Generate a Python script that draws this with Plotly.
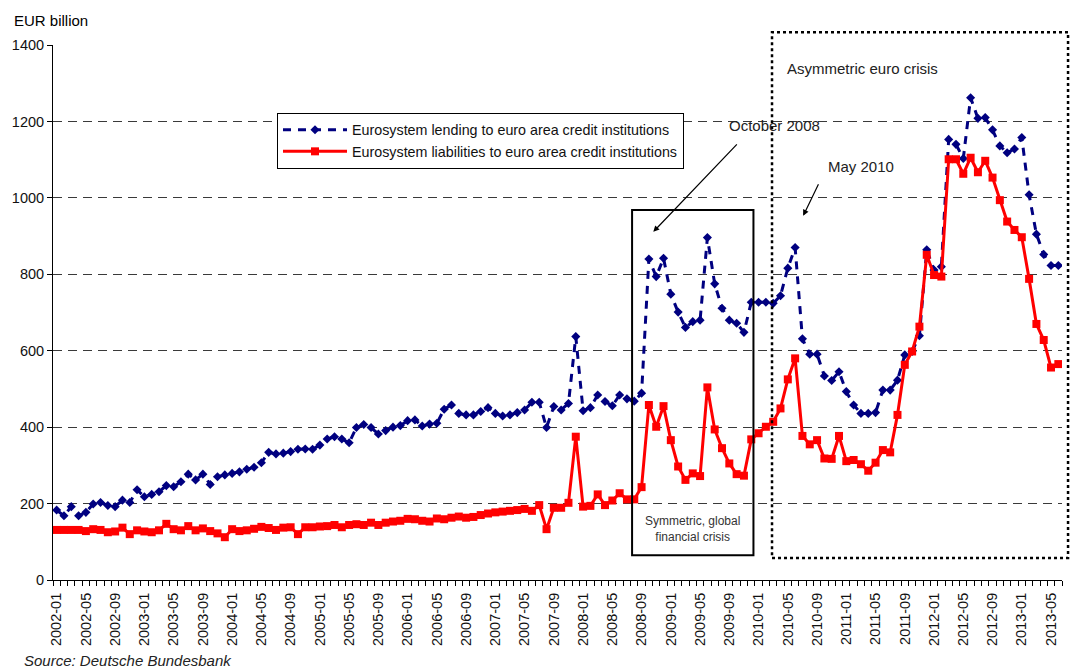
import plotly.graph_objects as go

# Monthly observations, January 2002 to June 2013 (EUR billion)
months = [f"{y}-{m:02d}" for y in range(2002, 2014) for m in range(1, 13)][:138]

lending = [
    183, 168, 192, 168, 177, 199, 203, 195, 192, 209,
    203, 236, 218, 224, 231, 247, 244, 257, 277, 262,
    277, 250, 270, 275, 279, 283, 290, 295, 307, 334,
    330, 332, 336, 342, 343, 342, 353, 369, 375, 369,
    359, 399, 407, 399, 382, 391, 400, 404, 417, 419,
    403, 408, 410, 447, 458, 436, 432, 432, 441, 451,
    436, 429, 432, 438, 445, 465, 465, 399, 454, 445,
    462, 637, 443, 451, 484, 467, 456, 484, 474, 468,
    489, 840, 794, 842, 748, 701, 661, 676, 680, 896,
    775, 711, 680, 672, 648, 727, 727, 727, 724, 744,
    816, 870, 631, 591, 591, 534, 522, 545, 493, 458,
    436, 436, 438, 497, 497, 523, 589, 598, 639, 864,
    811, 820, 1153, 1140, 1103, 1262, 1208, 1210, 1178, 1136,
    1118, 1128, 1158, 1008, 905, 852, 823, 823,
]

liabilities = [
    131, 131, 131, 131, 128, 133, 131, 125, 127, 137,
    120, 130, 127, 125, 130, 147, 133, 130, 141, 130,
    135, 128, 122, 112, 133, 128, 130, 134, 139, 136,
    131, 137, 138, 120, 138, 138, 140, 141, 144, 138,
    144, 146, 144, 150, 144, 150, 153, 155, 160, 159,
    155, 153, 161, 159, 163, 166, 163, 165, 170, 174,
    177, 179, 181, 183, 186, 181, 196, 133, 189, 189,
    202, 375, 192, 194, 224, 196, 208, 227, 211, 211,
    243, 458, 401, 455, 366, 297, 262, 279, 272, 504,
    394, 345, 305, 277, 273, 368, 384, 401, 414, 449,
    525, 580, 377, 355, 366, 318, 317, 377, 311, 314,
    303, 286, 307, 340, 334, 432, 563, 598, 663, 851,
    798, 794, 1101, 1101, 1063, 1105, 1067, 1097, 1053, 994,
    938, 916, 897, 788, 670, 628, 556, 565,
]

series_names = [
    "Eurosystem lending to euro area credit institutions",
    "Eurosystem liabilities to euro area credit institutions",
]

FONT = "Liberation Sans, Arial, sans-serif"
idx = list(range(len(months)))

fig = go.Figure()
fig.add_trace(go.Scatter(
    x=idx, y=lending, name=series_names[0], mode="lines+markers",
    line=dict(color="#000080", width=3, dash="8px,7px"),
    marker=dict(symbol="diamond", size=7, color="#000080"),
))
fig.add_trace(go.Scatter(
    x=idx, y=liabilities, name=series_names[1], mode="lines+markers",
    line=dict(color="#FF0000", width=3),
    marker=dict(symbol="square", size=8, color="#FF0000"),
))

tick_idx = idx[::4]
tick_txt = [months[i] for i in tick_idx]

fig.update_layout(
    width=1070, height=671,
    margin=dict(l=53, r=8, t=45, b=91, pad=0),
    paper_bgcolor="white", plot_bgcolor="white",
    font=dict(family=FONT, size=14, color="#000"),
    showlegend=True,
    legend=dict(
        x=0.222, y=0.873, xanchor="left", yanchor="top",
        bgcolor="white", bordercolor="#000", borderwidth=1,
        font=dict(family=FONT, size=14.3, color="#111"),
        itemwidth=64, tracegroupgap=0,
    ),
    xaxis=dict(
        range=[-0.5, len(months) - 0.5],
        tickmode="array", tickvals=tick_idx, ticktext=tick_txt,
        tickangle=-90, ticks="outside", ticklen=6, tickcolor="rgba(0,0,0,0)",
        tickfont=dict(family=FONT, size=14.5, color="#111"),
        showline=True, linecolor="#000", linewidth=1,
        showgrid=False, zeroline=False,
        minor=dict(
            tickmode="array",
            tickvals=[i - 0.5 for i in range(len(months) + 1)],
            ticks="outside", ticklen=5, tickcolor="#000", tickwidth=1,
            showgrid=False,
        ),
    ),
    yaxis=dict(
        range=[0, 1400], tick0=0, dtick=200,
        ticks="outside", ticklen=5, tickcolor="#000",
        tickfont=dict(family=FONT, size=14.5, color="#111"),
        showline=True, linecolor="#000", linewidth=1,
        showgrid=True, gridcolor="#3a3a3a", gridwidth=1, griddash="9px,6px",
        zeroline=False,
    ),
)

# Crisis phase boxes
fig.add_shape(type="rect", xref="x", yref="y", x0=78.7, x1=95.3, y0=65, y1=968,
              line=dict(color="#000", width=2), layer="above")
fig.add_shape(type="rect", xref="paper", yref="paper", x0=0.7126, x1=1.006, y0=0.041, y1=1.024,
              line=dict(color="#000", width=2.5, dash="dot"), layer="above")

annots = [
    dict(text="EUR billion", xref="paper", yref="paper", x=-0.0406, y=1.0467,
         xanchor="left", yanchor="middle", font=dict(size=15)),
    dict(text="Asymmetric euro crisis", xref="paper", yref="paper", x=0.7255, y=0.957,
         xanchor="left", yanchor="middle", font=dict(size=15, color="#222")),
    dict(text="October 2008", xref="paper", yref="paper", x=0.668, y=0.8486,
         xanchor="left", yanchor="middle", font=dict(size=15, color="#222")),
    dict(text="May 2010", xref="paper", yref="paper", x=0.766, y=0.7738,
         xanchor="left", yanchor="middle", font=dict(size=15, color="#222")),
    dict(text="Symmetric, global<br>financial crisis", xref="x", yref="y", x=86.9, y=134,
         xanchor="center", yanchor="middle", font=dict(size=12, color="#333")),
    dict(text="<i>Source: Deutsche Bundesbank</i>", xref="paper", yref="paper",
         x=-0.0307, y=-0.1305, xanchor="left", yanchor="top", font=dict(size=15, color="#222")),
]
for a in annots:
    a.setdefault("showarrow", False)
    fig.add_annotation(**a)

# Pointer arrows
fig.add_annotation(x=81.6, y=911, xref="x", yref="y", ax=85, ay=-89, text="",
                   showarrow=True, arrowhead=2, arrowsize=1, arrowwidth=1.2,
                   arrowcolor="#000", standoff=0)
fig.add_annotation(x=102.1, y=953, xref="x", yref="y", ax=16, ay=-33, text="",
                   showarrow=True, arrowhead=2, arrowsize=1, arrowwidth=1.2,
                   arrowcolor="#000", standoff=0)

fig.write_html("out.html")
